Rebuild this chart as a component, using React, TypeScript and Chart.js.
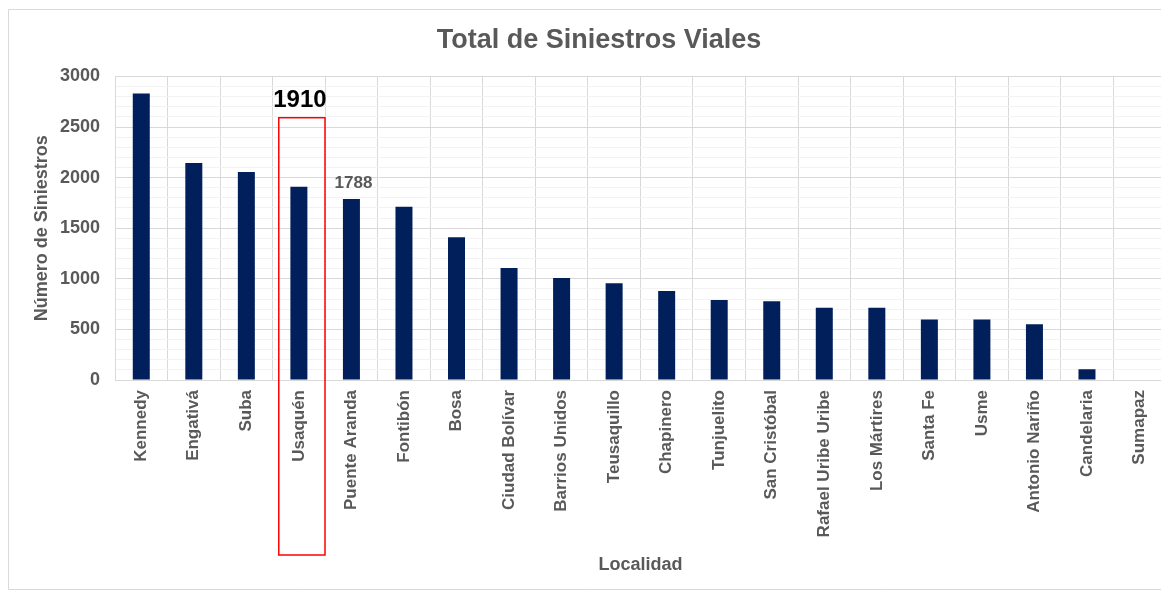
import React, { useEffect, useRef } from "react";
import { Chart, registerables } from "chart.js";

Chart.register(...registerables);

const categories = [
  "Kennedy", "Engativá", "Suba", "Usaquén", "Puente Aranda", "Fontibón", "Bosa",
  "Ciudad Bolívar", "Barrios Unidos", "Teusaquillo", "Chapinero", "Tunjuelito",
  "San Cristóbal", "Rafael Uribe Uribe", "Los Mártires", "Santa Fe", "Usme",
  "Antonio Nariño", "Candelaria", "Sumapaz",
];
const siniestros = [
  2830, 2145, 2055, 1910, 1788, 1713, 1410, 1107, 1008, 956, 880, 790, 777,
  714, 713, 599, 598, 550, 105, 0,
];
const highlighted = "Usaquén";
const labelled = "Puente Aranda";

const GRAY = "#595959";
const FONT = "'Liberation Sans', Arial, sans-serif";

const annotations = {
  id: "annotations",
  beforeDraw(chart: any) {
    const { ctx, width, height } = chart;
    ctx.save();
    ctx.fillStyle = "#ffffff";
    ctx.fillRect(0, 0, width, height);
    ctx.strokeStyle = "#d9d9d9";
    ctx.lineWidth = 1;
    ctx.beginPath();
    ctx.moveTo(width + 5, 9.5);
    ctx.lineTo(8.5, 9.5);
    ctx.lineTo(8.5, 589.5);
    ctx.lineTo(width + 5, 589.5);
    ctx.stroke();
    ctx.restore();
  },
  afterDraw(chart: any) {
    const { ctx, chartArea } = chart;
    const x = chart.scales.x;
    const meta = chart.getDatasetMeta(0);
    const step = x.width / categories.length;

    const hi = categories.indexOf(highlighted);
    const hb = meta.data[hi];
    const half = step * 0.44;
    const cx = hb.x + 3;
    const top = hb.y - 69;
    const bottom = chartArea.bottom + 175;
    ctx.save();
    ctx.strokeStyle = "#ff0000";
    ctx.lineWidth = 1.5;
    ctx.strokeRect(cx - half, top, half * 2, bottom - top);
    ctx.fillStyle = "#000000";
    ctx.font = `bold 24px ${FONT}`;
    ctx.textAlign = "center";
    ctx.textBaseline = "alphabetic";
    ctx.fillText(String(siniestros[hi]), hb.x + 1, top - 11);

    const li = categories.indexOf(labelled);
    const lb = meta.data[li];
    ctx.fillStyle = GRAY;
    ctx.font = `bold 17px ${FONT}`;
    ctx.fillText(String(siniestros[li]), lb.x + 2, lb.y - 11);
    ctx.restore();
  },
};

export default function App() {
  const ref = useRef<HTMLCanvasElement>(null);
  useEffect(() => {
    const chart = new Chart(ref.current!, {
      type: "bar",
      data: {
        labels: categories,
        datasets: [
          {
            data: siniestros,
            backgroundColor: "#001f5b",
            borderWidth: 0,
            inflateAmount: 0,
            barThickness: 17,
          },
        ],
      },
      options: {
        animation: false,
        responsive: false,
        layout: { padding: { left: 31, right: 3, top: 10, bottom: 0 } },
        plugins: {
          legend: { display: false },
          tooltip: { enabled: false },
          title: {
            display: true,
            text: "Total de Siniestros Viales",
            color: GRAY,
            font: { family: FONT, size: 27, weight: "bold" },
            padding: { top: 14, bottom: 20 },
          },
        },
        scales: {
          x: {
            grid: { color: "#d9d9d9", offset: true, drawTicks: false },
            border: { color: "#d9d9d9" },
            ticks: {
              color: GRAY,
              font: { family: FONT, size: 17, weight: "bold" },
              minRotation: 90,
              maxRotation: 90,
              autoSkip: false,
              padding: 10,
            },
            title: {
              display: true,
              text: "Localidad",
              color: GRAY,
              font: { family: FONT, size: 18, weight: "bold" },
              padding: { top: 0, bottom: 15 },
            },
            afterFit(scale: any) {
              scale.height = 211;
            },
          },
          y: {
            min: 0,
            max: 3000,
            grid: {
              drawTicks: false,
              color: (c: any) => (c.tick && c.tick.value % 500 === 0 ? "#d9d9d9" : "#f2f2f2"),
            },
            border: { color: "#d9d9d9" },
            ticks: {
              stepSize: 100,
              autoSkip: false,
              color: GRAY,
              font: { family: FONT, size: 18, weight: "bold" },
              padding: 15,
              callback: (v: any) => (Number(v) % 500 === 0 ? String(v) : ""),
            },
            title: {
              display: true,
              text: "Número de Siniestros",
              color: GRAY,
              font: { family: FONT, size: 18, weight: "bold" },
              padding: { top: 0, bottom: 8 },
            },
            afterFit(scale: any) {
              scale.width = 84;
            },
          },
        },
      },
      plugins: [annotations],
    });
    return () => chart.destroy();
  }, []);

  return (
    <div
      style={{
        position: "fixed",
        left: 0,
        top: 0,
        width: 1161,
        height: 591,
        overflow: "hidden",
        background: "#fff",
      }}
    >
      <canvas ref={ref} width={1170} height={591} style={{ display: "block" }} />
    </div>
  );
}
